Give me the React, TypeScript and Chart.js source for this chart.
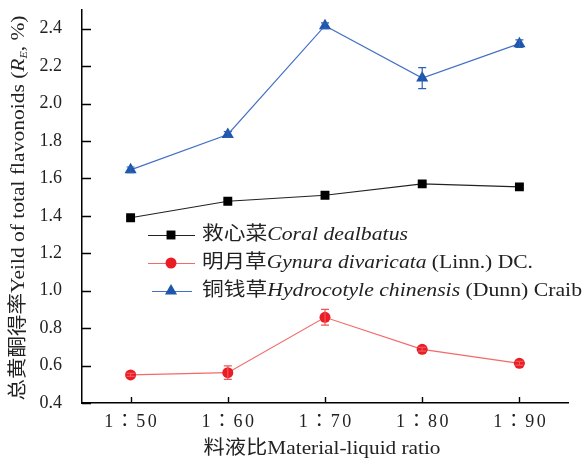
import React, { useEffect, useRef } from 'react';
import { Chart, registerables } from 'chart.js';

Chart.register(...registerables);

// ---- data ----
const categories = ['1：50', '1：60', '1：70', '1：80', '1：90'];
const yTickValues = [0.4, 0.6, 0.8, 1.0, 1.2, 1.4, 1.6, 1.8, 2.0, 2.2, 2.4];

const coralValues = [1.39, 1.478, 1.51, 1.571, 1.555];
const coralErrors = [0.008, 0.008, 0.008, 0.01, 0.008];

const gynuraValues = [0.55, 0.562, 0.858, 0.687, 0.612];
const gynuraErrors = [0.008, 0.036, 0.042, 0.01, 0.01];

const hydroValues = [1.646, 1.835, 2.416, 2.136, 2.32];
const hydroErrors = [0.015, 0.015, 0.015, 0.056, 0.02];

type Run = { t: string; italic?: boolean; sub?: boolean };

const coralName: Run[] = [{ t: '救心菜' }, { t: 'Coral dealbatus', italic: true }];
const gynuraName: Run[] = [{ t: '明月草' }, { t: 'Gynura divaricata', italic: true }, { t: ' (Linn.) DC.' }];
const hydroName: Run[] = [{ t: '铜钱草' }, { t: 'Hydrocotyle chinensis', italic: true }, { t: ' (Dunn) Craib' }];

const yTitle: Run[] = [
  { t: '总黄酮得率Yeild of total flavonoids (' },
  { t: 'R', italic: true },
  { t: 'E', italic: true, sub: true },
  { t: ', %)' },
];
const xTitle: Run[] = [{ t: '料液比Material-liquid ratio' }];

const FAMILY = '"Liberation Serif", "Noto Sans CJK SC", serif';
const TICK_FAMILY = '"Liberation Serif", "Noto Sans CJK TC", serif';

function fontFor(r: Run, size: number) {
  const s = r.sub ? size * 0.55 : size;
  return `${r.italic ? 'italic ' : ''}${s}px ${FAMILY}`;
}

function drawRuns(
  ctx: CanvasRenderingContext2D,
  runs: Run[],
  x: number,
  y: number,
  size: number,
  targetWidth: number,
  align: 'left' | 'center',
  color: string
) {
  ctx.save();
  ctx.textBaseline = 'middle';
  ctx.textAlign = 'left';
  let total = 0;
  const widths = runs.map((r) => {
    ctx.font = fontFor(r, size);
    const w = ctx.measureText(r.t).width;
    total += w;
    return w;
  });
  const sx = targetWidth / total;
  ctx.translate(x, y);
  ctx.scale(sx, 1);
  let cx = align === 'center' ? -total / 2 : 0;
  ctx.fillStyle = color;
  runs.forEach((r, i) => {
    ctx.font = fontFor(r, size);
    ctx.fillText(r.t, cx, r.sub ? size * 0.3 : 0);
    cx += widths[i];
  });
  ctx.restore();
}

function drawMarker(ctx: CanvasRenderingContext2D, style: string, x: number, y: number, r: number, color: string) {
  ctx.save();
  ctx.fillStyle = color;
  ctx.beginPath();
  if (style === 'rect') {
    const s = Math.SQRT1_2 * r;
    ctx.rect(x - s, y - s, 2 * s, 2 * s);
  } else if (style === 'circle') {
    ctx.arc(x, y, r, 0, Math.PI * 2);
  } else {
    let rad = 0;
    ctx.moveTo(x + Math.sin(rad) * r, y - Math.cos(rad) * r);
    rad += (2 * Math.PI) / 3;
    ctx.lineTo(x + Math.sin(rad) * r, y - Math.cos(rad) * r);
    rad += (2 * Math.PI) / 3;
    ctx.lineTo(x + Math.sin(rad) * r, y - Math.cos(rad) * r);
    ctx.closePath();
  }
  ctx.fill();
  ctx.restore();
}

const decorPlugin = {
  id: 'decor',
  afterDatasetsDraw(chart: any) {
    const ctx: CanvasRenderingContext2D = chart.ctx;
    const yScale = chart.scales.y;
    chart.data.datasets.forEach((ds: any, i: number) => {
      const meta = chart.getDatasetMeta(i);
      ctx.save();
      ctx.strokeStyle = ds.errorColor;
      ctx.lineWidth = 1.2;
      meta.data.forEach((pt: any, j: number) => {
        const v = ds.data[j];
        const e = ds.errors[j];
        const yt = yScale.getPixelForValue(v + e);
        const yb = yScale.getPixelForValue(v - e);
        ctx.beginPath();
        ctx.moveTo(pt.x, yt);
        ctx.lineTo(pt.x, yb);
        ctx.moveTo(pt.x - 4, yt);
        ctx.lineTo(pt.x + 4, yt);
        ctx.moveTo(pt.x - 4, yb);
        ctx.lineTo(pt.x + 4, yb);
        ctx.stroke();
      });
      ctx.restore();
    });
  },
  afterDraw(chart: any) {
    const ctx: CanvasRenderingContext2D = chart.ctx;
    const { x, y } = chart.scales;
    const area = chart.chartArea;
    ctx.save();
    ctx.strokeStyle = '#000';
    ctx.lineWidth = 1.4;
    ctx.beginPath();
    y.ticks.forEach((_t: any, i: number) => {
      const py = Math.round(y.getPixelForTick(i)) + 0.5;
      ctx.moveTo(area.left, py);
      ctx.lineTo(area.left + 9, py);
    });
    x.ticks.forEach((_t: any, i: number) => {
      const px = Math.round(x.getPixelForTick(i)) + 0.5;
      ctx.moveTo(px, area.bottom);
      ctx.lineTo(px, area.bottom - 6);
    });
    ctx.stroke();
    ctx.restore();

    // x tick labels (letter-spaced like the reference)
    ctx.save();
    ctx.font = `18px ${TICK_FAMILY}`;
    ctx.fillStyle = '#222';
    ctx.textAlign = 'center';
    ctx.textBaseline = 'middle';
    (ctx as any).letterSpacing = '2.5px';
    x.ticks.forEach((_t: any, i: number) => {
      const px = x.getPixelForTick(i);
      ctx.fillText(String(x.getLabelForValue(i)), px + 1.25, 422);
    });
    ctx.restore();

    const rows = [
      { runs: coralName, style: 'rect', r: 6.3, mark: '#000', line: '#222', y: 235, x1: 148, x2: 195, w: 206 },
      { runs: gynuraName, style: 'circle', r: 5.5, mark: '#ea1c24', line: '#f26a6a', y: 263, x1: 148, x2: 195, w: 331 },
      { runs: hydroName, style: 'triangle', r: 7, mark: '#1d56ab', line: '#4470c4', y: 291, x1: 152, x2: 192, w: 380 },
    ];
    rows.forEach((row) => {
      ctx.save();
      ctx.strokeStyle = row.line;
      ctx.lineWidth = 1.2;
      ctx.beginPath();
      ctx.moveTo(row.x1, row.y + 0.5);
      ctx.lineTo(row.x2, row.y + 0.5);
      ctx.stroke();
      ctx.restore();
      drawMarker(ctx, row.style, 171, row.y, row.r, row.mark);
      drawRuns(ctx, row.runs, 202, row.y, 19, row.w, 'left', '#222');
    });

    ctx.save();
    ctx.translate(19, 208);
    ctx.rotate(-Math.PI / 2);
    drawRuns(ctx, yTitle, 0, 0, 19, 385, 'center', '#222');
    ctx.restore();
    drawRuns(ctx, xTitle, 322, 449, 19, 237, 'center', '#222');
  },
};

export default function App() {
  const ref = useRef<HTMLCanvasElement | null>(null);
  useEffect(() => {
    if (!ref.current) return;
    const chart = new Chart(ref.current, {
      type: 'line',
      data: {
        labels: categories,
        datasets: [
          {
            label: 'coral',
            data: coralValues,
            errors: coralErrors,
            errorColor: '#000',
            borderColor: '#222',
            borderWidth: 1.2,
            pointStyle: 'rect',
            pointRadius: 6.3,
            pointBackgroundColor: '#000',
            pointBorderWidth: 0,
          } as any,
          {
            label: 'gynura',
            data: gynuraValues,
            errors: gynuraErrors,
            errorColor: '#f0555a',
            borderColor: '#f26a6a',
            borderWidth: 1.2,
            pointStyle: 'circle',
            pointRadius: 5.5,
            pointBackgroundColor: '#ea1c24',
            pointBorderWidth: 0,
          } as any,
          {
            label: 'hydro',
            data: hydroValues,
            errors: hydroErrors,
            errorColor: '#2d5fb5',
            borderColor: '#4470c4',
            borderWidth: 1.2,
            pointStyle: 'triangle',
            pointRadius: 7,
            pointBackgroundColor: '#1d56ab',
            pointBorderWidth: 0,
          } as any,
        ],
      },
      options: {
        animation: false,
        responsive: false,
        events: [],
        layout: { padding: { left: 0, top: 10, right: 15, bottom: 0 } },
        plugins: {
          legend: { display: false },
          tooltip: { enabled: false },
        },
        scales: {
          x: {
            type: 'category',
            offset: true,
            grid: { display: true, drawOnChartArea: false, drawTicks: false },
            border: { display: true, color: '#000', width: 1.5 },
            ticks: {
              display: false,
              maxRotation: 0,
            },
            afterFit: (s: any) => {
              s.height = 61;
              s.paddingLeft = 0;
              s.paddingRight = 0;
            },
          },
          y: {
            type: 'linear',
            min: 0.4,
            max: 2.5,
            grid: { display: true, drawOnChartArea: false, drawTicks: false },
            border: { display: true, color: '#000', width: 1.5 },
            afterBuildTicks: (s: any) => {
              s.ticks = yTickValues.map((v) => ({ value: v }));
            },
            ticks: {
              color: '#222',
              padding: 20,
              font: { family: FAMILY, size: 18 },
              callback: (v: any) => Number(v).toFixed(1),
            },
            afterFit: (s: any) => {
              s.width = 82;
              s.paddingTop = 0;
              s.paddingBottom = 0;
            },
          },
        },
      },
      plugins: [decorPlugin],
    } as any);
    return () => chart.destroy();
  }, []);
  return (
    <canvas
      ref={ref}
      width={583}
      height={464}
      style={{ position: 'absolute', left: 0, top: 0, width: 583, height: 464, background: '#fff' }}
    />
  );
}
